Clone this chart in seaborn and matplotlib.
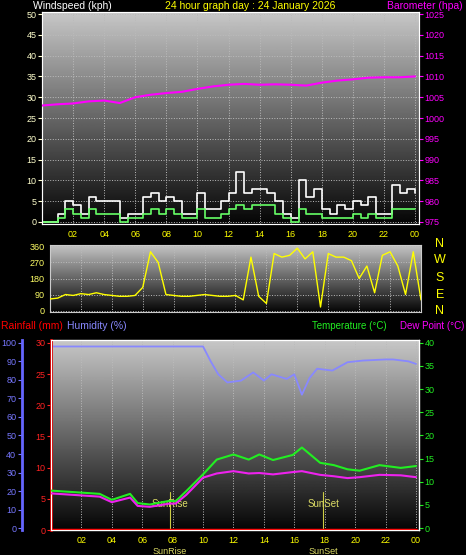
import numpy as np
import matplotlib
matplotlib.use("Agg")
import matplotlib.pyplot as plt
import seaborn as sns

sns.set_style("dark")
plt.rcParams['font.family'] = ['Liberation Sans', 'DejaVu Sans']

W, H = 466, 555

# ---- data ----
wind_hours = [0, 0.5, 1, 1.5, 2, 2.5, 3, 3.5, 4, 4.5, 5, 5.5, 6, 6.5, 7, 7.5, 8, 8.5, 9, 9.5,
              10, 10.5, 11, 11.5, 12, 12.5, 13, 13.5, 14, 14.5, 15, 15.5, 16, 16.5, 17, 17.5,
              18, 18.5, 19, 19.5, 20, 20.5, 21, 21.5, 22, 22.5, 23, 23.5, 24]
gust = [0, 0, 2, 5, 4, 2, 6, 5, 5, 5, 1, 2, 2, 6, 7, 5, 6, 5, 2, 2,
        7, 3, 3, 5, 7, 12, 7, 8, 8, 7, 5, 2, 1, 10, 6, 8, 3, 2, 4, 3,
        5, 4, 6, 2, 2, 9, 7, 8, 7]
wind_avg = [0, 0, 1, 3, 2, 1, 3, 2, 2, 2, 0, 1, 1, 2, 3, 2, 3, 2, 1, 1,
            3, 1, 1, 2, 3, 4, 3, 4, 4, 4, 2, 1, 0, 3, 2, 2, 1, 1, 1, 1,
            2, 1, 2, 1, 1, 3, 3, 3, 3]

baro_hours = list(range(25))
baro = [1003, 1003.3, 1003.5, 1004, 1004.2, 1003.6, 1005, 1005.6, 1006, 1006.3, 1007,
        1007.6, 1008, 1008.2, 1008, 1008.1, 1008, 1007.8, 1008.5, 1009, 1009.3, 1009.7,
        1009.8, 1009.8, 1010]

dir_hours = wind_hours
wind_dir = [65, 70, 90, 85, 95, 90, 100, 90, 85, 80, 80, 85, 130, 330, 270, 90, 85, 80, 80, 85,
            90, 85, 80, 80, 85, 60, 300, 80, 40, 320, 300, 310, 350, 290, 330, 20, 320, 300, 300,
            280, 180, 250, 100, 310, 330, 250, 90, 330, 60]

th_hours = [0, 3.2, 4, 5.2, 5.7, 6.5, 7.8, 8.2, 8.9, 10, 10.9, 12, 13, 13.7, 14.6, 15.9, 16.5,
            17.7, 18.6, 19.5, 20.3, 21.6, 23, 24]
temp = [8.1, 7.4, 6.1, 7.4, 5.4, 5.1, 5.9, 5.8, 8, 11.6, 14.8, 15.9, 14.8, 15.9, 14.7, 15.8,
        17.4, 14.1, 13.6, 12.7, 12.4, 13.6, 13, 13.4]
dew = [7.5, 6.8, 5.6, 6.6, 4.8, 4.6, 5.3, 5.3, 7.2, 10.9, 11.8, 12.3, 11.8, 11.9, 11.6, 12.1,
       12.3, 11.5, 11.2, 10.8, 11, 11.5, 11.4, 11]
hum_hours = [0, 10, 10.5, 11, 11.6, 12.5, 13.3, 14, 14.5, 15.5, 16, 16.5, 17, 17.5, 18.5,
             19.5, 20.5, 22, 22.5, 23.5, 24]
humidity = [98, 98, 90, 83, 78.6, 79.6, 84, 79.6, 83, 80.5, 83, 72, 81, 86, 85, 89.5,
            90.4, 91, 91, 90, 88.6]
rain_hours = [0, 24]
rain = [0, 0]

hour_ticks = list(range(2, 25, 2))
hour_labels = ["%02d" % (h % 24) for h in hour_ticks]

fig = plt.figure(figsize=(W / 100, H / 100), dpi=100, facecolor='black')


def px_axes(x0, y0, x1, y1):
    return fig.add_axes([x0 / W, 1 - y1 / H, (x1 - x0) / W, (y1 - y0) / H])


def background(ax):
    grad = np.linspace(0.78, 0.02, 256).reshape(-1, 1)
    ax.imshow(grad, cmap='gray', vmin=0, vmax=1, aspect='auto',
              extent=[0, 1, 0, 1], transform=ax.transAxes, zorder=0)
    ax.grid(True, color='#bbbbbb', linestyle=':', linewidth=0.7, zorder=1)
    for s in ax.spines.values():
        s.set_color('#cccccc')


def style_ticks(ax, color, axis='y'):
    ax.tick_params(axis=axis, colors=color, labelsize=6.5, length=3, width=0.8, pad=1)


# ---- top panel: wind + barometer ----
ax1 = px_axes(42, 12, 419, 224)
background(ax1)
sns.lineplot(x=wind_hours, y=gust, ax=ax1, color='white', lw=1.2, drawstyle='steps-post', zorder=3)
sns.lineplot(x=wind_hours, y=wind_avg, ax=ax1, color='#66ff66', lw=1.2, drawstyle='steps-post', zorder=4)
ax1.set_xlim(0, 24.25)
ax1.set_ylim(-0.5, 50.5)
ax1.set_yticks(range(0, 51, 5))
ax1.set_xticks(hour_ticks)
ax1.set_xticklabels(hour_labels)
style_ticks(ax1, '#ffffcc')
style_ticks(ax1, 'yellow', 'x')
ax1r = ax1.twinx()
sns.lineplot(x=baro_hours, y=baro, ax=ax1r, color='magenta', lw=1.5, zorder=5)
ax1r.set_ylim(974.5, 1025.5)
ax1r.set_yticks(range(975, 1026, 5))
style_ticks(ax1r, 'magenta')
ax1r.grid(False)
ax1.set_ylabel('')
ax1r.set_ylabel('')
fig.text(33 / W, 1 - 6 / H, 'Windspeed (kph)', color='white', fontsize=7.5, va='center')
fig.text(250 / W, 1 - 6 / H, '24 hour graph day : 24 January 2026', color='yellow',
         fontsize=7.5, ha='center', va='center')
fig.text(463 / W, 1 - 6 / H, 'Barometer (hpa)', color='magenta', fontsize=7.5,
         ha='right', va='center')

# ---- middle panel: wind direction ----
ax2 = px_axes(50, 245, 421, 312)
background(ax2)
sns.lineplot(x=dir_hours, y=wind_dir, ax=ax2, color='yellow', lw=1.0, zorder=3)
ax2.set_xlim(0, 24)
ax2.set_ylim(-8, 368)
ax2.set_yticks([0, 90, 180, 270, 360])
ax2.set_xticks(hour_ticks)
ax2.set_xticklabels([])
style_ticks(ax2, '#ffff66')
ax2.tick_params(axis='x', length=0)
for lab, yy in zip(['N', 'W', 'S', 'E', 'N'], [244, 260, 278, 295, 311]):
    fig.text(440 / W, 1 - yy / H, lab, color='yellow', fontsize=9, ha='center', va='center')

# ---- bottom panel: temperature, dew point, humidity, rain ----
ax3 = px_axes(51, 340, 419, 530)
background(ax3)
ax3.set_xlim(0, 24.2)
ax3.set_ylim(-0.4, 40.6)
ax3.set_yticks([])
ax3.set_xticks(hour_ticks)
ax3.set_xticklabels(hour_labels)
style_ticks(ax3, 'yellow', 'x')
for h, name in [(7.8, 'SunRise'), (17.9, 'SunSet')]:
    ax3.axvline(h, ymax=0.2, color='#cccc44', lw=0.8, zorder=2)
    ax3.text(h, 4.5, name, color='#dddd66', fontsize=7, ha='center', zorder=6)
    ax3.text(h, -4, name, color='#dddd66', fontsize=6.5, ha='center', va='top', clip_on=False)

axh = ax3.twinx()
axh.yaxis.set_ticks_position('left')
axh.spines['left'].set_position(('outward', 21))
axh.spines['left'].set_color('#6666ff')
axh.spines['left'].set_linewidth(2)
sns.lineplot(x=hum_hours, y=humidity, ax=axh, color='#8888ff', lw=1.3, zorder=3)
axh.set_ylim(-1, 101.5)
axh.set_yticks(range(0, 101, 10))
style_ticks(axh, '#7777ff')
axh.grid(False)
axh.set_ylabel('')

axr = ax3.twinx()
axr.yaxis.set_ticks_position('left')
axr.spines['left'].set_color('#dd0000')
axr.spines['left'].set_linewidth(2)
sns.lineplot(x=rain_hours, y=rain, ax=axr, color='red', lw=2.5, zorder=6)
axr.set_ylim(0, 30.45)
axr.set_yticks(range(0, 31, 5))
style_ticks(axr, '#ff2222')
axr.grid(False)
axr.set_ylabel('')

axt = ax3.twinx()
sns.lineplot(x=th_hours, y=temp, ax=axt, color='#22ee22', lw=1.5, zorder=4)
sns.lineplot(x=th_hours, y=dew, ax=axt, color='#ee22ee', lw=1.5, zorder=4)
axt.set_ylim(-0.4, 40.6)
axt.set_yticks(range(0, 41, 5))
style_ticks(axt, '#22ee22')
axt.grid(False)
axt.set_ylabel('')

fig.text(1 / W, 1 - 326 / H, 'Rainfall (mm)', color='red', fontsize=7.5, va='center')
fig.text(67 / W, 1 - 326 / H, 'Humidity (%)', color='#8888ff', fontsize=7.5, va='center')
fig.text(312 / W, 1 - 326 / H, 'Temperature (\u00b0C)', color='#22ee22', fontsize=7,
         va='center')
fig.text(464 / W, 1 - 326 / H, 'Dew Point (\u00b0C)', color='magenta', fontsize=7,
         ha='right', va='center')

fig.savefig('out.png', dpi=100, facecolor='black')
